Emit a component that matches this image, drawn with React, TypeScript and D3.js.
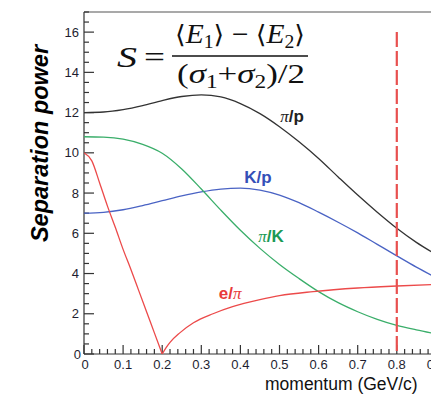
import * as d3 from "d3";

// momentum grid (GeV/c)
const momentum = [0, 0.05, 0.1, 0.15, 0.2, 0.25, 0.3, 0.35, 0.4, 0.45, 0.5, 0.55, 0.6, 0.65, 0.7, 0.75, 0.8, 0.85, 0.9];
const piP = [12.0, 12.03, 12.15, 12.35, 12.6, 12.8, 12.88, 12.78, 12.45, 11.95, 11.3, 10.55, 9.72, 8.8, 7.9, 7.05, 6.25, 5.55, 4.95];
const kP = [7.0, 7.04, 7.17, 7.38, 7.62, 7.86, 8.06, 8.2, 8.25, 8.15, 7.9, 7.52, 7.05, 6.55, 6.02, 5.45, 4.88, 4.32, 3.8];
const piK = [10.8, 10.78, 10.68, 10.42, 9.98, 9.2, 8.2, 7.15, 6.15, 5.25, 4.45, 3.75, 3.1, 2.55, 2.1, 1.72, 1.42, 1.2, 1.0];

// e/pi has a sharp minimum at 0.2, so it has its own grid
const ePiMomentum = [0, 0.02, 0.04, 0.06, 0.08, 0.1, 0.12, 0.14, 0.16, 0.18, 0.2, 0.21, 0.22, 0.245, 0.28, 0.33, 0.38, 0.45, 0.5, 0.586, 0.7, 0.8, 0.9];
const ePi = [10.0, 9.6, 8.5, 7.35, 6.3, 5.2, 4.2, 3.15, 2.1, 1.05, 0, 0.32, 0.58, 1.05, 1.55, 2.0, 2.35, 2.7, 2.9, 3.1, 3.28, 3.38, 3.46];
const ePiMin = 0.2;

const xTicks = [0, 0.1, 0.2, 0.3, 0.4, 0.5, 0.6, 0.7, 0.8, 0.9];
const yTicks = [0, 2, 4, 6, 8, 10, 12, 14, 16];
const cutMomentum = 0.8;

const W = 431;
const H = 395;

type Pt = [number, number];

export default function App() {
  const x = d3.scaleLinear().domain([0, 1]).range([84, 475]);
  const y = d3.scaleLinear().domain([0, 17]).range([354, 12]);

  const line = d3
    .line<Pt>()
    .x((d) => x(d[0]))
    .y((d) => y(d[1]))
    .curve(d3.curveMonotoneX);

  const zip = (xs: number[], ys: number[]): Pt[] => xs.map((v, i) => [v, ys[i]]);
  const ePiPts = zip(ePiMomentum, ePi);
  const ePiDown = ePiPts.filter((d) => d[0] <= ePiMin);
  const ePiUp = ePiPts.filter((d) => d[0] >= ePiMin);

  const curves = [
    { pts: zip(momentum, piP), color: "#333333" },
    { pts: zip(momentum, kP), color: "#4a63c4" },
    { pts: zip(momentum, piK), color: "#3aae6a" },
    { pts: ePiDown, color: "#ec4a4a" },
    { pts: ePiUp, color: "#ec4a4a" },
  ];

  const xMinor = d3.range(0, 1.001, 0.02).filter((v) => Math.abs(v * 10 - Math.round(v * 10)) > 1e-6);
  const yMinor = d3.range(0, 17.01, 0.5).filter((v) => v % 2 !== 0);
  const axisColor = "#333";
  const font = "Liberation Sans, Arial, sans-serif";
  const math = "Liberation Serif, DejaVu Serif, serif";

  return (
    <svg
      width={W}
      height={H}
      style={{ position: "absolute", left: 0, top: 0, background: "#fff" }}
      fontFamily={font}
    >
      <defs>
        <clipPath id="plot">
          <rect x={84} y={12} width={W - 84} height={342} />
        </clipPath>
      </defs>

      {/* frame */}
      <line x1={84} x2={W} y1={12} y2={12} stroke="#555" strokeWidth={1.2} />
      <line x1={84} x2={84} y1={12} y2={354} stroke={axisColor} strokeWidth={1.2} />
      <line x1={84} x2={W} y1={354} y2={354} stroke={axisColor} strokeWidth={1.2} />

      {/* y ticks */}
      {yTicks.map((t) => (
        <g key={"y" + t}>
          <line x1={84} x2={94} y1={y(t)} y2={y(t)} stroke={axisColor} strokeWidth={1.2} />
          <text x={t === 0 ? 81 : 79} y={y(t) + (t === 0 ? 5 : 4.5)} fontSize={13} textAnchor="end" fill="#1e1e30">
            {t}
          </text>
        </g>
      ))}
      {yMinor.map((t) => (
        <line key={"ym" + t} x1={84} x2={89} y1={y(t)} y2={y(t)} stroke={axisColor} strokeWidth={1.2} />
      ))}

      {/* x ticks */}
      {xTicks.map((t) => (
        <g key={"x" + t}>
          <line x1={x(t)} x2={x(t)} y1={354} y2={345} stroke={axisColor} strokeWidth={1.2} />
          <text x={t === 0 ? x(t) + 1 : x(t)} y={369} fontSize={13} textAnchor="middle" fill="#1e1e30">
            {t === 0 ? "0" : d3.format(".1f")(t)}
          </text>
        </g>
      ))}
      {xMinor.map((t) => (
        <line key={"xm" + t} x1={x(t)} x2={x(t)} y1={354} y2={349} stroke={axisColor} strokeWidth={1.2} />
      ))}

      {/* curves */}
      <g clipPath="url(#plot)">
        {curves.map((c, i) => (
          <path key={i} d={line(c.pts) ?? ""} fill="none" stroke={c.color} strokeWidth={1.3} />
        ))}
      </g>

      {/* cut at 0.8 GeV/c */}
      <line
        x1={x(cutMomentum)}
        x2={x(cutMomentum)}
        y1={32}
        y2={354}
        stroke="#e8504f"
        strokeWidth={2.2}
        strokeDasharray="15 4"
      />

      {/* curve labels */}
      <text x={x(0.532)} y={y(11.55)} fontSize={17} fontWeight="bold" textAnchor="middle" fill="#222">
        <tspan fontFamily={math} fontWeight="normal" fontStyle="italic">π</tspan>/p
      </text>
      <text x={x(0.445)} y={y(8.5)} fontSize={17} fontWeight="bold" textAnchor="middle" fill="#3550b8">
        K/p
      </text>
      <text x={x(0.478)} y={y(5.55)} fontSize={17} fontWeight="bold" textAnchor="middle" fill="#1a9a55">
        <tspan fontFamily={math} fontWeight="normal" fontStyle="italic">π</tspan>/K
      </text>
      <text x={x(0.374)} y={y(2.75)} fontSize={17} fontWeight="bold" textAnchor="middle" fill="#e83a3a">
        e/<tspan fontFamily={math} fontWeight="normal" fontStyle="italic">π</tspan>
      </text>

      {/* formula */}
      <g fontFamily={math} fill="#111">
        <text x={117} y={67} fontSize={29} fontStyle="italic" textLength={20} lengthAdjust="spacingAndGlyphs">S</text>
        <text x={144} y={67} fontSize={29} textLength={21} lengthAdjust="spacingAndGlyphs">=</text>
        <text x={175} y={43} fontSize={27} textLength={130} lengthAdjust="spacingAndGlyphs">
          <tspan fontFamily="DejaVu Serif" fontSize={25}>⟨</tspan>
          <tspan fontStyle="italic">E</tspan>
          <tspan fontSize={18} dy={5}>1</tspan>
          <tspan fontFamily="DejaVu Serif" fontSize={25} dy={-5}>⟩</tspan>
          <tspan> − </tspan>
          <tspan fontFamily="DejaVu Serif" fontSize={25}>⟨</tspan>
          <tspan fontStyle="italic">E</tspan>
          <tspan fontSize={18} dy={5}>2</tspan>
          <tspan fontFamily="DejaVu Serif" fontSize={25} dy={-5}>⟩</tspan>
        </text>
        <line x1={172} x2={308} y1={56} y2={56} stroke="#111" strokeWidth={1.6} />
        <text x={177} y={83} fontSize={27} textLength={128} lengthAdjust="spacingAndGlyphs">
          <tspan>(</tspan>
          <tspan fontStyle="italic">σ</tspan>
          <tspan fontSize={18} dy={5}>1</tspan>
          <tspan dy={-5}>+</tspan>
          <tspan fontStyle="italic">σ</tspan>
          <tspan fontSize={18} dy={5}>2</tspan>
          <tspan dy={-5}>)/2</tspan>
        </text>
      </g>

      {/* axis titles */}
      <text
        transform="translate(48,143.5) rotate(-90)"
        fontSize={23.5}
        fontWeight="bold"
        fontStyle="italic"
        textAnchor="middle"
        fill="#000"
      >
        Separation power
      </text>
      <text x={265} y={390} fontSize={17.5} fill="#111">
        momentum (GeV/c)
      </text>
    </svg>
  );
}
